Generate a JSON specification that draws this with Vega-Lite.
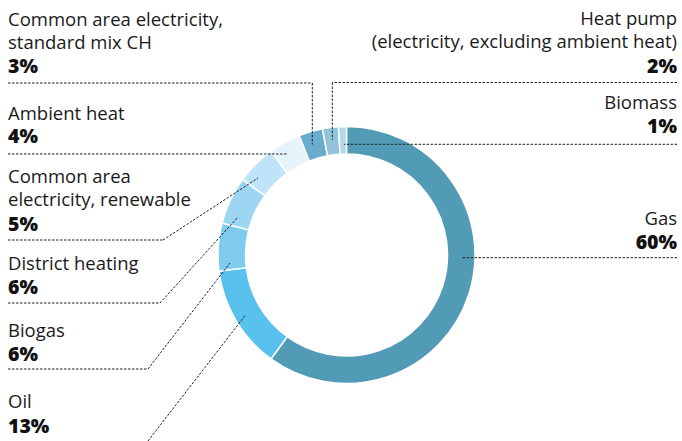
{
  "$schema": "https://vega.github.io/schema/vega-lite/v6.json",
  "width": 682,
  "height": 441,
  "autosize": {"type": "none"},
  "padding": 0,
  "background": "white",
  "config": {"view": {"stroke": null}, "font": "Open Sans"},
  "datasets": {
    "shares": [
      {"category": "Gas", "value": 60, "rank": 1},
      {"category": "Oil", "value": 13, "rank": 2},
      {"category": "Biogas", "value": 6, "rank": 3},
      {"category": "District heating", "value": 6, "rank": 4},
      {"category": "Common area electricity, renewable", "value": 5, "rank": 5},
      {"category": "Ambient heat", "value": 4, "rank": 6},
      {"category": "Common area electricity, standard mix CH", "value": 3, "rank": 7},
      {"category": "Heat pump (electricity, excluding ambient heat)", "value": 2, "rank": 8},
      {"category": "Biomass", "value": 1, "rank": 9}
    ],
    "labels": [
      {"category": "Common area electricity, standard mix CH", "side": "left", "name": "Common area electricity,\nstandard mix CH", "pct": "3%", "tx": 8, "ty": 26, "py": 72.7},
      {"category": "Ambient heat", "side": "left", "name": "Ambient heat", "pct": "4%", "tx": 8, "ty": 119.5, "py": 143},
      {"category": "Common area electricity, renewable", "side": "left", "name": "Common area\nelectricity, renewable", "pct": "5%", "tx": 8, "ty": 183, "py": 230.5},
      {"category": "District heating", "side": "left", "name": "District heating", "pct": "6%", "tx": 8, "ty": 270, "py": 293.5},
      {"category": "Biogas", "side": "left", "name": "Biogas", "pct": "6%", "tx": 8, "ty": 337, "py": 360.5},
      {"category": "Oil", "side": "left", "name": "Oil", "pct": "13%", "tx": 8, "ty": 407.5, "py": 432.5},
      {"category": "Heat pump (electricity, excluding ambient heat)", "side": "right", "name": "Heat pump\n(electricity, excluding ambient heat)", "pct": "2%", "tx": 677, "ty": 25, "py": 72.7},
      {"category": "Biomass", "side": "right", "name": "Biomass", "pct": "1%", "tx": 677, "ty": 109.3, "py": 133},
      {"category": "Gas", "side": "right", "name": "Gas", "pct": "60%", "tx": 677, "ty": 224.6, "py": 248.5}
    ],
    "leaders": [
      {"category": "Common area electricity, standard mix CH", "x": 8, "y": 83, "x2": 312.3, "y2": 83},
      {"category": "Common area electricity, standard mix CH", "x": 312.3, "y": 83, "x2": 312.3, "y2": 144.5},
      {"category": "Ambient heat", "x": 8, "y": 154, "x2": 288, "y2": 154},
      {"category": "Common area electricity, renewable", "x": 8, "y": 240, "x2": 163, "y2": 240},
      {"category": "Common area electricity, renewable", "x": 163, "y": 240, "x2": 258, "y2": 178},
      {"category": "District heating", "x": 8, "y": 303, "x2": 160, "y2": 303},
      {"category": "District heating", "x": 160, "y": 303, "x2": 238, "y2": 217},
      {"category": "Biogas", "x": 8, "y": 369, "x2": 148, "y2": 369},
      {"category": "Biogas", "x": 148, "y": 369, "x2": 230, "y2": 263},
      {"category": "Oil", "x": 148, "y": 441, "x2": 245.5, "y2": 315},
      {"category": "Heat pump (electricity, excluding ambient heat)", "x": 677, "y": 82.5, "x2": 332.3, "y2": 82.5},
      {"category": "Heat pump (electricity, excluding ambient heat)", "x": 332.3, "y": 82.5, "x2": 332.3, "y2": 140},
      {"category": "Biomass", "x": 677, "y": 144.3, "x2": 344, "y2": 144.3},
      {"category": "Gas", "x": 677, "y": 257.7, "x2": 462, "y2": 257.7}
    ]
  },
  "layer": [
    {
      "data": {"name": "shares"},
      "mark": {"type": "arc", "innerRadius": 101, "outerRadius": 128.5, "stroke": "white", "strokeWidth": 1.5},
      "encoding": {
        "theta": {"field": "value", "type": "quantitative", "stack": true},
        "order": {"field": "rank", "type": "quantitative", "sort": "ascending"},
        "color": {
          "field": "category",
          "type": "nominal",
          "legend": null,
          "scale": {
            "domain": ["Gas", "Oil", "Biogas", "District heating", "Common area electricity, renewable", "Ambient heat", "Common area electricity, standard mix CH", "Heat pump (electricity, excluding ambient heat)", "Biomass"],
            "range": ["#529bb6", "#58c1ed", "#7fcbf0", "#9dd6f3", "#bfe3f8", "#e6f3fb", "#6aaccb", "#93c3da", "#b4d8e9"]
          }
        },
        "x": {"datum": 346.5, "type": "quantitative", "scale": {"domain": [0, 682], "nice": false, "zero": false}, "axis": null},
        "y": {"datum": 255, "type": "quantitative", "scale": {"domain": [0, 441], "nice": false, "zero": false, "reverse": true}, "axis": null}
      }
    },
    {
      "data": {"name": "leaders"},
      "mark": {"type": "rule", "color": "#222222", "strokeWidth": 1, "strokeDash": [2.5, 1.5]},
      "encoding": {
        "x": {"field": "x", "type": "quantitative"},
        "y": {"field": "y", "type": "quantitative"},
        "x2": {"field": "x2"},
        "y2": {"field": "y2"}
      }
    },
    {
      "data": {"name": "labels"},
      "transform": [{"filter": "datum.side == 'left'"}],
      "mark": {"type": "text", "align": "left", "baseline": "alphabetic", "fontSize": 18.5, "lineHeight": 23.3, "lineBreak": "\n", "color": "#1a1a1a"},
      "encoding": {
        "x": {"field": "tx", "type": "quantitative"},
        "y": {"field": "ty", "type": "quantitative"},
        "text": {"field": "name"}
      }
    },
    {
      "data": {"name": "labels"},
      "transform": [{"filter": "datum.side == 'right'"}],
      "mark": {"type": "text", "align": "right", "baseline": "alphabetic", "fontSize": 18.5, "lineHeight": 23.3, "lineBreak": "\n", "color": "#1a1a1a"},
      "encoding": {
        "x": {"field": "tx", "type": "quantitative"},
        "y": {"field": "ty", "type": "quantitative"},
        "text": {"field": "name"}
      }
    },
    {
      "data": {"name": "labels"},
      "transform": [{"filter": "datum.side == 'left'"}],
      "mark": {"type": "text", "align": "left", "baseline": "alphabetic", "fontSize": 19.5, "fontWeight": 800, "color": "#111111"},
      "encoding": {
        "x": {"field": "tx", "type": "quantitative"},
        "y": {"field": "py", "type": "quantitative"},
        "text": {"field": "pct"}
      }
    },
    {
      "data": {"name": "labels"},
      "transform": [{"filter": "datum.side == 'right'"}],
      "mark": {"type": "text", "align": "right", "baseline": "alphabetic", "fontSize": 19.5, "fontWeight": 800, "color": "#111111"},
      "encoding": {
        "x": {"field": "tx", "type": "quantitative"},
        "y": {"field": "py", "type": "quantitative"},
        "text": {"field": "pct"}
      }
    }
  ]
}
